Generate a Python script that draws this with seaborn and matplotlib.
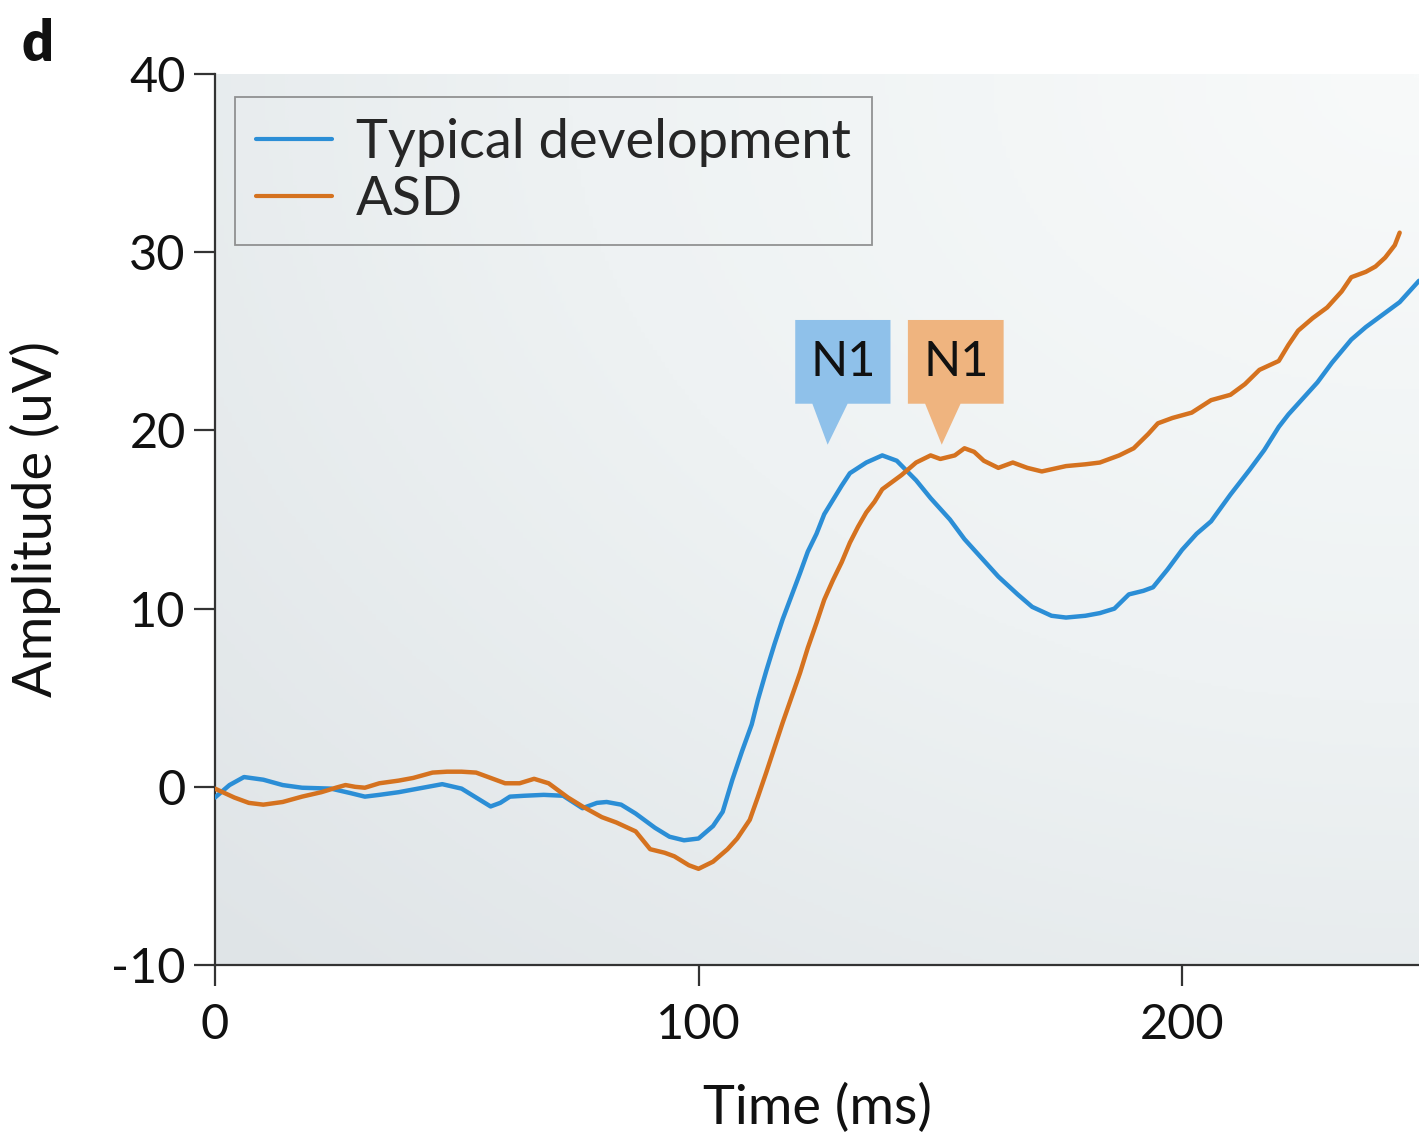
import numpy as np
import pandas as pd
import matplotlib.pyplot as plt
import seaborn as sns
from matplotlib.colors import LinearSegmentedColormap
from matplotlib.patches import Polygon

# Data (time in ms, amplitude in uV)
td_time = [0, 3, 6, 10, 14, 18, 24, 28, 31, 34, 38, 42, 47, 51, 54, 57, 59, 61, 64, 68,
           72, 76, 79, 81, 84, 87, 91, 94, 97, 100, 103, 105, 107, 109, 111, 112.3, 114,
           115.7, 117.4, 119.2, 121, 122.6, 124.4, 126, 127.8, 129.6, 131.3, 134.7, 138,
           141, 145, 148, 152, 155, 159, 162, 166, 169,
           173, 176, 180, 183, 186, 189, 192, 194, 197, 200, 203, 206, 210, 214, 217,
           220, 222, 225, 228, 231, 235, 238, 241, 245, 249]
td_amp = [-0.6, 0.1, 0.55, 0.4, 0.1, -0.05, -0.1, -0.35, -0.55, -0.45, -0.3, -0.1, 0.15,
          -0.1, -0.6, -1.1, -0.9, -0.55, -0.5, -0.45, -0.5, -1.2, -0.9, -0.85, -1.0, -1.5,
          -2.3, -2.8, -3.0, -2.9, -2.2, -1.4, 0.4, 2.0, 3.5, 4.9, 6.5, 8.0, 9.4, 10.7,
          12.0, 13.2, 14.2, 15.3, 16.1, 16.9, 17.6, 18.2, 18.6,
          18.3, 17.2, 16.2, 15.0, 13.9, 12.7, 11.8, 10.8, 10.1, 9.6,
          9.5, 9.6, 9.75, 10.0, 10.8, 11.0, 11.2, 12.2, 13.3, 14.2, 14.9, 16.4, 17.8, 18.9,
          20.2, 20.9, 21.8, 22.7, 23.8, 25.1, 25.8, 26.4, 27.2, 28.4]

asd_time = [0, 4, 7, 10, 14, 18, 22, 25, 27, 29, 31, 34, 38, 41, 45, 48, 51, 54, 57, 60,
            63, 66, 69, 73, 76, 80, 83, 87, 90, 93, 95, 98, 100, 103, 106, 108, 110.6,
            112.3, 114, 115.7, 117.4, 119.2, 121, 122.6, 124.4, 126, 127.8, 129.6, 131.3,
            133, 134.7, 136.4, 138, 140, 142, 145, 148, 150, 153, 155, 157, 159,
            162, 165, 168, 171, 176, 180, 183, 187, 190, 193, 195, 198, 202, 206, 210,
            213, 216, 220, 222, 224, 227, 230, 233, 235, 238, 240, 242, 244, 245]
asd_amp = [-0.1, -0.6, -0.9, -1.0, -0.85, -0.55, -0.3, -0.05, 0.1, 0.0, -0.05, 0.2, 0.35,
           0.5, 0.8, 0.85, 0.85, 0.8, 0.5, 0.2, 0.2, 0.45, 0.2, -0.6, -1.1, -1.7, -2.0,
           -2.5, -3.5, -3.7, -3.9, -4.4, -4.6, -4.2, -3.5, -2.9, -1.85,
           -0.55, 0.8, 2.2, 3.6, 5.0, 6.4, 7.8, 9.2, 10.5, 11.6, 12.6, 13.7,
           14.6, 15.4, 16.0, 16.7, 17.1, 17.5, 18.2, 18.6, 18.4, 18.6, 19.0, 18.8, 18.3,
           17.9, 18.2, 17.9, 17.7, 18.0, 18.1, 18.2, 18.6, 19.0, 19.8, 20.4, 20.7, 21.0, 21.7,
           22.0, 22.6, 23.4, 23.9, 24.8, 25.6, 26.3, 26.9, 27.8, 28.6, 28.9, 29.2, 29.7,
           30.4, 31.1]

groups = ['Typical development', 'ASD']
colors = {'Typical development': '#2b8ed6', 'ASD': '#d5721f'}

df = pd.concat([
    pd.DataFrame({'time': td_time, 'amp': td_amp, 'group': groups[0]}),
    pd.DataFrame({'time': asd_time, 'amp': asd_amp, 'group': groups[1]}),
])

sns.set_style('ticks')
plt.rcParams['font.family'] = ['Lato', 'DejaVu Sans']
plt.rcParams['axes.unicode_minus'] = False

fig = plt.figure(figsize=(14.19, 11.36), dpi=100)
ax = fig.add_axes([0.1515, 0.1505, 0.8485, 0.7843])

# soft grey background gradient
gx, gy = np.meshgrid(np.linspace(0, 1, 300), np.linspace(0, 1, 300))
dist = np.sqrt((1 - gx) ** 2 + (1 - gy) ** 2) / np.sqrt(2)
bg = LinearSegmentedColormap.from_list('bg', ['#f8fafa', '#eef2f3', '#dfe4e7'])
ax.imshow(dist, cmap=bg, extent=[0, 1, 0, 1], origin='lower', aspect='auto',
          transform=ax.transAxes, zorder=0)

sns.lineplot(data=df, x='time', y='amp', hue='group', palette=colors,
             linewidth=3.2, ax=ax, zorder=3, estimator=None)

ax.set_xlim(0, 249)
ax.set_ylim(-10, 40)
ax.set_xticks([0, 100, 200])
ax.set_yticks([-10, 0, 10, 20, 30, 40])
ax.set_yticklabels(['-10', '0', '10', '20', '30', '40'])
ax.tick_params(axis='both', direction='out', length=15, width=1.6, colors='#333333',
               labelsize=35, labelcolor='#111111')
ax.tick_params(axis='x', pad=12)
ax.tick_params(axis='y', pad=6)
for s in ['top', 'right']:
    ax.spines[s].set_visible(False)
for s in ['left', 'bottom']:
    ax.spines[s].set_color('#333333')
    ax.spines[s].set_linewidth(1.6)

ax.set_xlabel('Time (ms)', fontsize=39, color='#111111', labelpad=26)
ax.set_ylabel('Amplitude (uV)', fontsize=39, color='#111111', labelpad=36)

leg = ax.legend(loc='upper left', bbox_to_anchor=(0.017, 0.974), fontsize=39,
                frameon=True, fancybox=False, edgecolor='#7a7a7a', facecolor='none',
                handlelength=1.4, handletextpad=0.45, labelspacing=0.15,
                borderpad=0.38, borderaxespad=0)
leg.get_frame().set_linewidth(1.3)
for h in leg.legend_handles:
    h.set_linewidth(3)

# N1 callouts
callouts = [
    {'x0': 120, 'x1': 139.7, 'tip': 126.7, 'color': '#8fc1ea'},
    {'x0': 143.3, 'x1': 163.1, 'tip': 150.3, 'color': '#efb47f'},
]
box_top, box_bottom, tip_y = 26.2, 21.5, 19.2
for c in callouts:
    w = c['x1'] - c['x0']
    ax.add_patch(Polygon([(c['x0'], box_bottom), (c['x0'], box_top), (c['x1'], box_top),
                          (c['x1'], box_bottom), (c['x0'] + 0.55 * w, box_bottom),
                          (c['tip'], tip_y), (c['x0'] + 0.18 * w, box_bottom)],
                         closed=True, facecolor=c['color'], edgecolor='none', zorder=2))
    ax.text((c['x0'] + c['x1']) / 2, (box_top + box_bottom) / 2, 'N1', fontsize=35,
            ha='center', va='center', color='#111111', zorder=4)

fig.text(0.015, 0.946, 'd', fontsize=40, fontweight='heavy', color='#111111')

plt.savefig('out.png', dpi=100)
